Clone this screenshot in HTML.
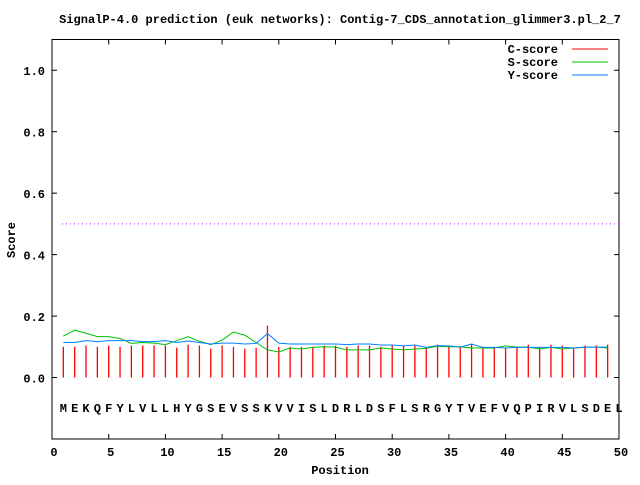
<!DOCTYPE html>
<html><head><meta charset="utf-8"><style>
body{margin:0;background:#fff}
svg text{font-family:"Liberation Mono",monospace;font-weight:bold;font-size:12px;fill:#000}
</style></head><body>
<svg width="640" height="480" xmlns="http://www.w3.org/2000/svg">
<g id="g"></g>
</svg>
<script>
const seq = "MEKQFYLVLLHYGSEVSSKVVISLDRLDSFLSRGYTVEFVQPIRVLSDEL".split("");
const cScore = [0.100,0.100,0.104,0.100,0.104,0.100,0.104,0.104,0.104,0.104,0.097,0.107,0.104,0.094,0.104,0.100,0.094,0.097,0.169,0.100,0.100,0.100,0.100,0.104,0.104,0.100,0.104,0.104,0.100,0.104,0.104,0.104,0.100,0.107,0.104,0.100,0.110,0.100,0.100,0.097,0.100,0.107,0.100,0.107,0.104,0.097,0.104,0.104,0.107];
const sScore = [0.135,0.154,0.144,0.133,0.133,0.127,0.111,0.114,0.112,0.107,0.120,0.133,0.118,0.107,0.122,0.148,0.138,0.114,0.090,0.083,0.096,0.093,0.098,0.100,0.099,0.090,0.090,0.090,0.096,0.093,0.090,0.093,0.095,0.102,0.100,0.100,0.096,0.096,0.096,0.103,0.099,0.099,0.093,0.098,0.093,0.096,0.099,0.099,0.096];
const yScore = [0.114,0.114,0.120,0.117,0.120,0.120,0.120,0.117,0.117,0.120,0.114,0.119,0.114,0.109,0.112,0.112,0.109,0.111,0.143,0.112,0.109,0.109,0.109,0.109,0.109,0.107,0.109,0.109,0.106,0.106,0.103,0.106,0.098,0.104,0.103,0.099,0.109,0.098,0.098,0.096,0.098,0.098,0.098,0.098,0.098,0.096,0.099,0.099,0.099];
const xTicks = [0,5,10,15,20,25,30,35,40,45,50];
const yTicks = [0,0.2,0.4,0.6,0.8,1.0];
const yTickLabels = ["0.0","0.2","0.4","0.6","0.8","1.0"];
const threshold = 0.5;

const X0=52,X1=619,YT=39.5,YB=439;
const xs=v=>X0+(v/50)*(X1-X0);
const ys=v=>YB-(v+0.2)/1.3*(YB-YT);
const g=document.getElementById('g');
const NS="http://www.w3.org/2000/svg";
function mk(t,a){const e=document.createElementNS(NS,t);for(const k in a)e.setAttribute(k,a[k]);g.appendChild(e);return e;}

let e=mk('text',{x:340,y:23,'text-anchor':'middle'});e.textContent="SignalP-4.0 prediction (euk networks): Contig-7_CDS_annotation_glimmer3.pl_2_7";



e=mk('rect',{x:X0,y:YT,width:X1-X0,height:YB-YT,fill:'none',stroke:'#000','stroke-width':1});



xTicks.forEach(t=>{const x=xs(t);
 mk('line',{x1:x,x2:x,y1:YB,y2:YB-5,stroke:'#000'});mk('line',{x1:x,x2:x,y1:YT,y2:YT+5,stroke:'#000'});
 const l=mk('text',{x:x+2,y:YB+17,'text-anchor':'middle'});l.textContent=t;
 
 
});
yTicks.forEach((t,i)=>{const y=ys(t);
 mk('line',{x1:X0,x2:X0+5,y1:y,y2:y,stroke:'#000'});mk('line',{x1:X1,x2:X1-5,y1:y,y2:y,stroke:'#000'});
 const l=mk('text',{x:45,y:y+5,'text-anchor':'end'});l.textContent=yTickLabels[i];
 
 
});
e=mk('text',{x:340,y:474,'text-anchor':'middle'});e.textContent="Position";


e=mk('text',{x:15,y:240,'text-anchor':'middle',transform:'rotate(-90 15 240)'});e.textContent="Score";



e=mk('line',{x1:X0+10,x2:X1,y1:ys(threshold),y2:ys(threshold),stroke:'#a020f0','stroke-dasharray':'1,3'});



cScore.forEach((v,i)=>{const x=xs(i+1);
 const b=mk('line',{x1:x,x2:x,y1:ys(0),y2:ys(v),stroke:'#ff0000','stroke-width':1.3});
 
 
});
function line(arr,col,name){
 const p=mk('polyline',{points:arr.map((v,i)=>xs(i+1)+','+ys(v)).join(' '),fill:'none',stroke:col,'stroke-width':1});
 
 
}
line(sScore,'#00c000','s-score-line');
line(yScore,'#0080ff','y-score-line');

seq.forEach((c,i)=>{const t=mk('text',{x:xs(i+1),y:412,'text-anchor':'middle'});t.textContent=c;
 
 
});

[["C-score","#ff0000"],["S-score","#00c000"],["Y-score","#0080ff"]].forEach((d,i)=>{
 const y=53+i*13;
 const t=mk('text',{x:558,y:y,'text-anchor':'end'});t.textContent=d[0];
 
 
 const l=mk('line',{x1:572,x2:608,y1:y-4,y2:y-4,stroke:d[1]});
 
 
});
</script>
</body></html>
